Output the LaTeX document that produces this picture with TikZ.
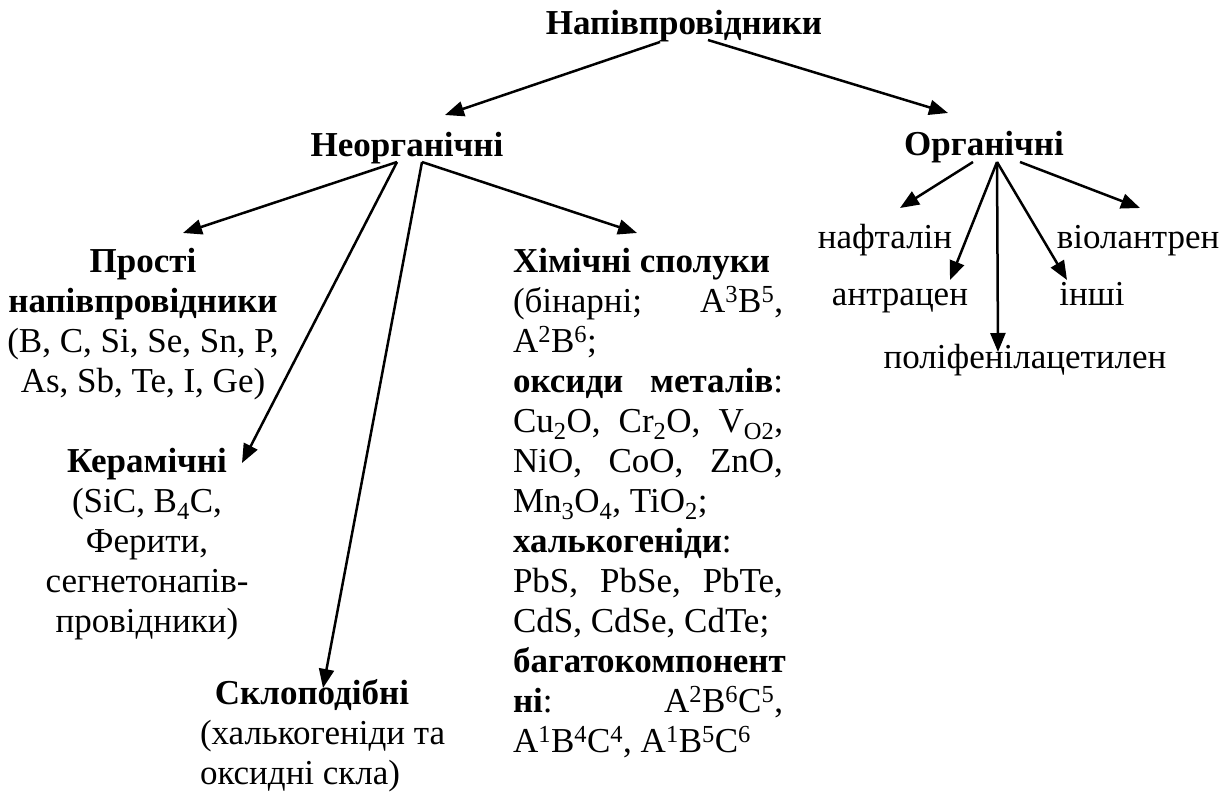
\documentclass[tikz,border=0pt]{standalone}
\usepackage{fontspec}
\setmainfont{Liberation Serif}
\usetikzlibrary{arrows.meta}
\newcommand{\spread}[1]{\makebox[270pt][s]{#1}}
\begin{document}
\begin{tikzpicture}[x=1pt,y=-1pt,>={Triangle[length=19pt,width=15pt]},
  every node/.style={font=\fontsize{35}{40}\selectfont,inner sep=0pt,outer sep=0pt},
  hd/.style={font=\fontsize{35}{40}\selectfont\bfseries},
  arr/.style={->,line width=2.5pt}]
  \useasboundingbox (0,0) rectangle (1230,792);
  % headings
  \node[hd,anchor=base] (root) at (684,35) {Напівпровідники};
  \node[hd,anchor=base] (neorg) at (407,156) {Неорганічні};
  \node[hd,anchor=base] (org) at (984,155) {Органічні};
  % inorganic groups (base = last line)
  \node[anchor=base,align=center] (prosti) at (143,392) {\textbf{Прості}\\\textbf{напівпровідники}\\(B, C, Si, Se, Sn, P,\\As, Sb, Te, I, Ge)};
  \node[anchor=base,align=center] (keram) at (147,632) {\textbf{Керамічні}\\(SiC, B\textsubscript{4}C,\\Ферити,\\сегнетонапів-\\провідники)};
  \node[hd,anchor=base] (sklo) at (312,704) {Склоподібні};
  \node[anchor=base west,align=left] (sklotxt) at (200,784) {(халькогеніди та\\оксидні скла)};
  \node[anchor=base west,align=left] (chem) at (513,752) {\textbf{Хімічні сполуки}\\
    \spread{(бінарні;\hfill A\textsuperscript{3}B\textsuperscript{5},}\\
    A\textsuperscript{2}B\textsuperscript{6};\\
    \spread{\textbf{оксиди}\hfill\textbf{металів}:}\\
    \spread{Cu\textsubscript{2}O,\hfill Cr\textsubscript{2}O,\hfill V\textsubscript{O2},}\\
    \spread{NiO,\hfill CoO,\hfill ZnO,}\\
    Mn\textsubscript{3}O\textsubscript{4}, TiO\textsubscript{2};\\
    \textbf{халькогеніди}:\\
    \spread{PbS,\hfill PbSe,\hfill PbTe,}\\
    CdS, CdSe, CdTe;\\
    \textbf{багатокомпонент}\\
    \spread{\textbf{ні}:\hfill A\textsuperscript{2}B\textsuperscript{6}C\textsuperscript{5},}\\
    A\textsuperscript{1}B\textsuperscript{4}C\textsuperscript{4}, A\textsuperscript{1}B\textsuperscript{5}C\textsuperscript{6}};
  % organic
  \node[anchor=base] (naft) at (885,248) {нафталін};
  \node[anchor=base] (viol) at (1138,248) {віолантрен};
  \node[anchor=base east] (antr) at (968,305) {антрацен};
  \node[anchor=base] (inshi) at (1092,305) {інші};
  \node[anchor=base] (polif) at (1025,368) {поліфенілацетилен};
  % arrow ends
  \coordinate (r1) at (660,42);
  \coordinate (r2) at (708,40);
  \coordinate (n1) at (397,162);
  \coordinate (n2) at (422,162);
  \coordinate (o1) at (973,162);
  \coordinate (o2) at (997,162);
  \coordinate (o3) at (1020,162);
  \coordinate (tn) at (445,115);
  \coordinate (to) at (948,113);
  \coordinate (tp) at (183,233);
  \coordinate (tk) at (242,463);
  \coordinate (ts) at (323,688);
  \coordinate (tx) at (637,233);
  \coordinate (tnaf) at (900,208);
  \coordinate (tant) at (950,280);
  \coordinate (tpol) at (998,352);
  \coordinate (tin) at (1067,280);
  \coordinate (tvio) at (1140,208);
  \draw[arr] (r1)--(tn);
  \draw[arr] (r2)--(to);
  \draw[arr] (n1)--(tp);
  \draw[arr] (n1)--(tk);
  \draw[arr] (n2)--(ts);
  \draw[arr] (n2)--(tx);
  \draw[arr] (o1)--(tnaf);
  \draw[arr] (o2)--(tant);
  \draw[arr] (o2)--(tpol);
  \draw[arr] (o2)--(tin);
  \draw[arr] (o3)--(tvio);
\end{tikzpicture}
\end{document}
